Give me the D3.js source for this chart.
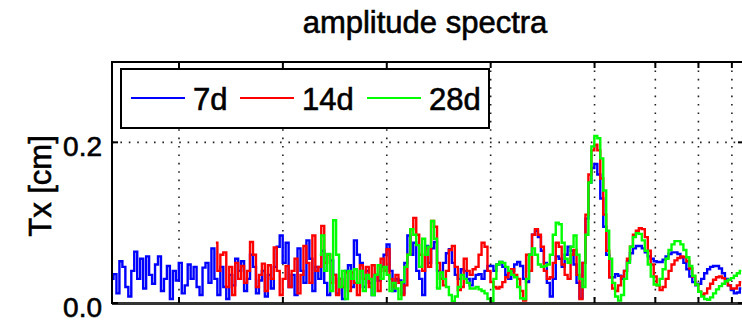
<!DOCTYPE html>
<html>
<head>
<meta charset="utf-8">
<script src="https://cdn.jsdelivr.net/npm/d3@7"></script>
<style>
  body { margin: 0; background: #fff; }
  svg { display: block; font-family: "Liberation Sans", Arial, sans-serif; }
  svg text { stroke: #000; stroke-width: 0.6px; }
</style>
</head>
<body>
<svg id="chart" width="742" height="323"></svg>
<script>
// spectra are sampled on a log-period grid, 35 steps per octave,
// starting at the 14.6 day Nyquist period of the 7d series
const periodStart = 14.6; // days
const stepsPerOctave = 35;

const amp7d = [
  0.030, 0.036, 0.012, 0.052, 0.045, 0.020, 0.008, 0.040, 0.064, 0.030,
  0.055, 0.018, 0.058, 0.035, 0.024, 0.048, 0.058, 0.015, 0.030, 0.046,
  0.005, 0.040, 0.028, 0.050, 0.012, 0.022, 0.048, 0.030, 0.045, 0.020,
  0.010, 0.044, 0.050, 0.025, 0.068,
  0.030, 0.010, 0.045, 0.020, 0.005, 0.035, 0.022, 0.055, 0.040, 0.052,
  0.015, 0.030, 0.060, 0.045, 0.012, 0.028, 0.040, 0.008, 0.035, 0.018,
  0.045, 0.070, 0.084, 0.050, 0.075, 0.020, 0.035, 0.010, 0.068, 0.040,
  0.025, 0.078, 0.055, 0.015, 0.045,
  0.030, 0.065, 0.025, 0.010, 0.053, 0.035, 0.012, 0.030, 0.005, 0.040,
  0.047, 0.020, 0.078, 0.060, 0.050, 0.020, 0.040, 0.025, 0.010, 0.035,
  0.028, 0.045, 0.060, 0.073, 0.040, 0.015, 0.030, 0.028, 0.012, 0.050,
  0.084, 0.060, 0.075, 0.040, 0.030, 0.010, 0.071, 0.050, 0.068, 0.076,
  0.040,
  0.030, 0.050, 0.062, 0.067, 0.050, 0.035, 0.030, 0.042, 0.040, 0.030,
  0.022, 0.030, 0.035, 0.036, 0.030, 0.040, 0.046, 0.046, 0.040, 0.048,
  0.051, 0.045, 0.035, 0.030, 0.040, 0.048, 0.051, 0.046, 0.030, 0.026,
  0.060, 0.085, 0.090, 0.082, 0.065, 0.050, 0.025, 0.008, 0.030, 0.058,
  0.055, 0.045, 0.060, 0.070, 0.065, 0.048, 0.025, 0.006, 0.050, 0.105,
  0.150, 0.168, 0.173, 0.160, 0.130, 0.095, 0.060, 0.032, 0.032, 0.036,
  0.034, 0.030, 0.040, 0.052, 0.062, 0.068, 0.071, 0.071, 0.068, 0.063,
  0.058, 0.055, 0.052, 0.051, 0.051, 0.054, 0.058, 0.061, 0.063, 0.063,
  0.061, 0.057, 0.050, 0.042, 0.033, 0.026, 0.022, 0.024, 0.030, 0.037,
  0.042, 0.045, 0.046, 0.046, 0.043, 0.037, 0.030, 0.022, 0.016, 0.012,
  0.013, 0.018
];

const amp14d = [
  0.075, 0.040, 0.060, 0.063, 0.020, 0.045, 0.010, 0.050, 0.030, 0.046,
  0.025, 0.040, 0.076, 0.060, 0.020, 0.035, 0.049, 0.015, 0.047, 0.030,
  0.069, 0.040, 0.010, 0.030, 0.046, 0.020, 0.040, 0.055, 0.012, 0.035,
  0.071, 0.050, 0.025, 0.084, 0.040,
  0.045, 0.096, 0.050, 0.060, 0.025, 0.035, 0.010, 0.030, 0.020, 0.038,
  0.015, 0.038, 0.025, 0.010, 0.047, 0.030, 0.045, 0.020, 0.047, 0.035,
  0.015, 0.055, 0.040, 0.067, 0.030, 0.020, 0.035, 0.025, 0.010, 0.022,
  0.060, 0.092, 0.106, 0.085, 0.060, 0.040, 0.068, 0.045, 0.102, 0.095,
  0.050,
  0.030, 0.022, 0.040, 0.066, 0.071, 0.045, 0.016, 0.020, 0.055, 0.040,
  0.035, 0.042, 0.045, 0.060, 0.075, 0.070, 0.040, 0.026, 0.020, 0.018,
  0.020, 0.026, 0.032, 0.038, 0.042, 0.035, 0.030, 0.015, 0.003, 0.060,
  0.040, 0.085, 0.092, 0.085, 0.070, 0.040, 0.030, 0.032, 0.050, 0.075,
  0.070, 0.048, 0.035, 0.030, 0.060, 0.066, 0.035, 0.005, 0.050, 0.110,
  0.160, 0.190, 0.197, 0.190, 0.155, 0.110, 0.065, 0.032, 0.018, 0.015,
  0.022, 0.033, 0.040, 0.055, 0.070, 0.085, 0.090, 0.093, 0.092, 0.082,
  0.065, 0.048, 0.033, 0.022, 0.016, 0.020, 0.030, 0.040, 0.048, 0.053,
  0.056, 0.058, 0.057, 0.052, 0.043, 0.033, 0.023, 0.014, 0.010, 0.012,
  0.018, 0.024, 0.029, 0.032, 0.033, 0.031, 0.027, 0.022, 0.018, 0.018,
  0.022, 0.026
];

const amp28d = [
  0.060, 0.084, 0.040, 0.061, 0.015, 0.103, 0.060, 0.020, 0.040, 0.005,
  0.040, 0.030, 0.042, 0.025, 0.040, 0.015, 0.035, 0.030, 0.010, 0.035,
  0.047, 0.030, 0.045, 0.035, 0.015, 0.025, 0.018, 0.005, 0.026, 0.045,
  0.060, 0.092, 0.085, 0.072, 0.045, 0.080, 0.060, 0.070, 0.102, 0.080,
  0.018,
  0.038, 0.030, 0.020, 0.010, 0.002, 0.008, 0.020, 0.035, 0.030, 0.025,
  0.018, 0.018, 0.020, 0.017, 0.015, 0.012, 0.005, 0.002, 0.030, 0.048,
  0.051, 0.050, 0.045, 0.040, 0.035, 0.032, 0.020, 0.006, 0.005, 0.030,
  0.060, 0.068, 0.060, 0.048, 0.045, 0.046, 0.048, 0.060, 0.085, 0.100,
  0.098, 0.075, 0.055, 0.050, 0.070, 0.084, 0.060, 0.030, 0.020, 0.085,
  0.150, 0.195, 0.208, 0.205, 0.180, 0.140, 0.090, 0.055, 0.025, 0.008,
  0.003, 0.010, 0.030, 0.050, 0.070, 0.082, 0.087, 0.086, 0.078, 0.065,
  0.048, 0.033, 0.023, 0.022, 0.030, 0.042, 0.055, 0.066, 0.073, 0.077,
  0.077, 0.073, 0.066, 0.057, 0.046, 0.034, 0.023, 0.014, 0.008, 0.005,
  0.004, 0.007, 0.012, 0.017, 0.021, 0.024, 0.027, 0.029, 0.031, 0.034,
  0.037, 0.040
];

const seriesNames = ["7d", "14d", "28d"];
const seriesColors = ["#0000ff", "#ff0000", "#00ff00"];
const seriesStart = [0, 35, 70]; // each longer window starts one octave later
const seriesValues = [amp7d, amp14d, amp28d];

// grid lines, in years of period
const gridYears = [1 / 16, 1 / 8, 1 / 4, 1 / 2, 1, 1.5, 2, 2.5];
const yTicks = [0, 0.2];
const yTickLabels = ["0.0", "0.2"];

const svg = d3.select("#chart");
const plotLeft = 112, plotRight = 744, plotTop = 62, plotBottom = 303;

const x = d3.scaleLog().domain([14.6, 990]).range([plotLeft, plotRight]);
const y = d3.scaleLinear().domain([0, 0.3]).range([plotBottom, plotTop]);

svg.append("rect").attr("width", 742).attr("height", 323).attr("fill", "#fff");

// title
svg.append("text")
  .attr("x", 425).attr("y", 33)
  .attr("text-anchor", "middle")
  .style("font-size", "31px")
  .text("amplitude spectra");

// y label
svg.append("text")
  .attr("transform", `translate(51,186) rotate(-90)`)
  .attr("text-anchor", "middle")
  .style("font-size", "31px")
  .text("Tx [cm]");

svg.append("defs").append("clipPath").attr("id", "plot-clip")
  .append("rect").attr("x", plotLeft).attr("y", plotTop)
  .attr("width", plotRight - plotLeft).attr("height", plotBottom - plotTop);

// grid
const gridDays = gridYears.map(d => d * 365.25);
svg.append("g")
  .selectAll("line")
  .data(gridDays)
  .enter().append("line")
  .attr("x1", d => x(d)).attr("x2", d => x(d))
  .attr("y1", plotTop).attr("y2", plotBottom)
  .attr("stroke", "#222")
  .attr("stroke-width", 1.6)
  .attr("stroke-dasharray", "1.6,6.8");

svg.append("g")
  .selectAll("line")
  .data(yTicks.filter(d => d > 0))
  .enter().append("line")
  .attr("x1", plotLeft).attr("x2", plotRight)
  .attr("y1", d => y(d)).attr("y2", d => y(d))
  .attr("stroke", "#222")
  .attr("stroke-width", 1.6)
  .attr("stroke-dasharray", "1.6,6.8");

// spectra, drawn as steps like the coarse original plot
const line = d3.line()
  .curve(d3.curveStep)
  .x(d => x(d[0]))
  .y(d => y(d[1]));

const plot = svg.append("g").attr("clip-path", "url(#plot-clip)");
seriesValues.forEach((vals, k) => {
  const pts = vals.map((v, i) => [
    periodStart * Math.pow(2, (seriesStart[k] + i) / stepsPerOctave),
    v
  ]);
  plot.append("path")
    .datum(pts)
    .attr("fill", "none")
    .attr("stroke", seriesColors[k])
    .attr("stroke-width", 2.4)
    .attr("d", line);
});

// axes box and ticks
const axisG = svg.append("g");
axisG.append("rect")
  .attr("x", plotLeft).attr("y", plotTop)
  .attr("width", plotRight - plotLeft).attr("height", plotBottom - plotTop)
  .attr("fill", "none").attr("stroke", "#000").attr("stroke-width", 2);
axisG.append("line")
  .attr("x1", plotLeft).attr("x2", plotRight)
  .attr("y1", plotBottom + 0.5).attr("y2", plotBottom + 0.5)
  .attr("stroke", "#333").attr("stroke-width", 3);

const tickLen = 6;
gridDays.forEach(d => {
  axisG.append("line")
    .attr("x1", x(d)).attr("x2", x(d))
    .attr("y1", plotBottom).attr("y2", plotBottom - tickLen)
    .attr("stroke", "#000").attr("stroke-width", 2);
  axisG.append("line")
    .attr("x1", x(d)).attr("x2", x(d))
    .attr("y1", plotTop).attr("y2", plotTop + tickLen)
    .attr("stroke", "#000").attr("stroke-width", 2);
});
yTicks.forEach((d, i) => {
  axisG.append("line")
    .attr("x1", plotLeft).attr("x2", plotLeft + tickLen)
    .attr("y1", y(d)).attr("y2", y(d))
    .attr("stroke", "#000").attr("stroke-width", 2);
  axisG.append("line")
    .attr("x1", plotRight).attr("x2", plotRight - tickLen)
    .attr("y1", y(d)).attr("y2", y(d))
    .attr("stroke", "#000").attr("stroke-width", 2);
  axisG.append("text")
    .attr("x", plotLeft - 10).attr("y", y(d) + 14)
    .attr("text-anchor", "end")
    .style("font-size", "28px")
    .text(yTickLabels[i]);
});

// legend
const legend = svg.append("g").attr("transform", "translate(121,69)");
legend.append("rect")
  .attr("width", 368).attr("height", 59)
  .attr("fill", "#fff").attr("stroke", "#000").attr("stroke-width", 2);
const legendX = [10, 119, 246];
seriesNames.forEach((name, k) => {
  legend.append("line")
    .attr("x1", legendX[k]).attr("x2", legendX[k] + 54)
    .attr("y1", 29).attr("y2", 29)
    .attr("stroke", seriesColors[k]).attr("stroke-width", 2);
  legend.append("text")
    .attr("x", legendX[k] + 62).attr("y", 41)
    .style("font-size", "31px")
    .text(name);
});
</script>
</body>
</html>
